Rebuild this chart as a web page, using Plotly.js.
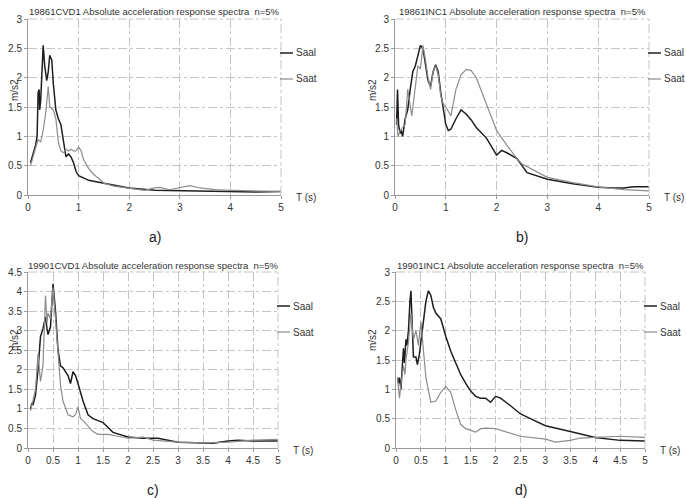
<!DOCTYPE html>
<html><head><meta charset="utf-8">
<script src="https://cdn.plot.ly/plotly-3.0.1.min.js"></script>
<style>html,body{margin:0;padding:0;background:#fff}#g{width:686px;height:498px}</style>
</head><body><div id="g"></div>
<script>
// Panel a: 19861CVD1
const aSaalT = [0.05,0.1,0.15,0.18,0.2,0.22,0.23,0.25,0.3,0.33,0.37,0.4,0.43,0.47,0.5,0.55,0.6,0.65,0.7,0.75,0.8,0.85,0.9,0.95,1.0,1.2,1.5,2.0,2.5,3.0,3.5,4.0,4.5,5.0];
const aSaalV = [0.55,0.7,0.85,1.0,1.75,1.8,1.45,1.6,2.55,2.2,1.95,2.1,2.38,2.3,1.9,1.45,1.3,1.2,0.9,0.65,0.7,0.65,0.55,0.4,0.33,0.25,0.2,0.12,0.08,0.07,0.06,0.05,0.05,0.06];
const aSaatT = [0.05,0.1,0.15,0.2,0.25,0.3,0.35,0.4,0.43,0.5,0.55,0.6,0.65,0.7,0.75,0.8,0.85,0.9,0.95,1.0,1.05,1.1,1.2,1.3,1.4,1.5,1.7,2.0,2.3,2.5,2.6,2.8,3.0,3.2,3.4,3.7,4.0,4.5,5.0];
const aSaatV = [0.5,0.65,0.8,0.95,0.9,1.1,1.4,1.85,1.5,1.45,1.3,0.9,0.75,0.72,0.78,0.75,0.78,0.75,0.75,0.82,0.75,0.6,0.45,0.35,0.28,0.2,0.15,0.11,0.08,0.12,0.13,0.09,0.12,0.16,0.12,0.09,0.08,0.07,0.06];
// Panel b: 19861INC1
const bSaalT = [0.03,0.05,0.07,0.1,0.12,0.15,0.2,0.25,0.3,0.35,0.4,0.45,0.5,0.55,0.6,0.65,0.7,0.75,0.8,0.85,0.9,0.95,1.0,1.05,1.1,1.2,1.3,1.4,1.5,1.6,1.8,2.0,2.05,2.1,2.2,2.4,2.6,3.0,3.5,4.0,4.3,4.5,4.7,5.0];
const bSaalV = [1.2,1.8,1.2,1.05,1.1,1.0,1.3,1.45,1.8,2.1,2.2,2.4,2.55,2.5,2.2,1.95,1.85,2.1,2.22,2.1,1.75,1.45,1.2,1.1,1.12,1.3,1.45,1.38,1.28,1.15,0.97,0.68,0.72,0.76,0.72,0.62,0.38,0.27,0.19,0.13,0.12,0.12,0.14,0.14];
const bSaatT = [0.03,0.06,0.1,0.15,0.2,0.25,0.3,0.33,0.38,0.45,0.5,0.55,0.6,0.65,0.7,0.75,0.8,0.85,0.9,0.95,1.0,1.1,1.2,1.3,1.4,1.5,1.6,1.8,2.0,2.2,2.4,2.5,3.0,3.5,4.0,4.5,5.0];
const bSaatV = [1.3,1.0,1.1,1.15,1.2,1.8,1.5,1.35,1.7,2.2,2.15,2.55,2.3,2.0,1.8,2.1,2.2,2.05,1.7,1.55,1.5,1.35,1.8,2.05,2.14,2.12,2.0,1.55,1.1,0.85,0.62,0.53,0.3,0.21,0.14,0.09,0.07];
// Panel c: 19901CVD1
const cSaalT = [0.05,0.08,0.1,0.15,0.2,0.25,0.3,0.35,0.38,0.4,0.45,0.5,0.55,0.6,0.65,0.7,0.8,0.85,0.9,0.95,1.0,1.1,1.2,1.3,1.5,1.7,2.0,2.3,2.6,2.8,3.0,3.5,3.7,4.0,4.2,4.5,4.8,5.0];
const cSaalV = [1.0,1.15,1.1,1.35,2.0,2.85,3.05,3.35,3.05,2.9,3.1,4.2,3.5,2.5,2.1,2.05,1.85,1.65,1.95,1.85,1.65,1.2,0.85,0.75,0.65,0.4,0.28,0.25,0.25,0.2,0.15,0.13,0.12,0.18,0.2,0.18,0.17,0.18];
const cSaatT = [0.05,0.1,0.15,0.2,0.25,0.3,0.35,0.38,0.4,0.45,0.5,0.55,0.6,0.65,0.7,0.8,0.9,0.95,1.0,1.05,1.1,1.2,1.3,1.4,1.6,1.8,2.0,2.3,2.5,3.0,3.5,4.0,4.5,5.0];
const cSaatV = [0.95,1.2,1.5,2.4,1.7,2.1,3.9,3.2,3.45,3.3,4.1,3.3,2.3,1.6,1.2,0.85,0.8,0.85,1.05,0.75,0.7,0.55,0.42,0.35,0.35,0.3,0.25,0.28,0.2,0.15,0.13,0.15,0.2,0.22];
// Panel d: 19901INC1
const dSaalT = [0.03,0.05,0.07,0.1,0.12,0.15,0.17,0.2,0.22,0.25,0.28,0.3,0.33,0.35,0.4,0.43,0.47,0.5,0.55,0.6,0.65,0.7,0.75,0.8,0.9,1.0,1.1,1.2,1.3,1.4,1.5,1.6,1.7,1.8,1.9,2.0,2.1,2.3,2.5,2.7,3.0,3.5,4.0,4.5,5.0];
const dSaalV = [1.2,1.1,1.2,1.0,1.3,1.7,1.45,1.85,1.75,2.0,2.5,2.68,2.0,1.55,1.55,1.42,1.6,1.8,2.2,2.5,2.68,2.6,2.4,2.3,2.2,1.9,1.65,1.45,1.25,1.1,0.97,0.88,0.85,0.85,0.78,0.88,0.85,0.72,0.58,0.5,0.38,0.28,0.18,0.13,0.12];
const dSaatT = [0.03,0.07,0.1,0.15,0.18,0.2,0.25,0.3,0.33,0.35,0.4,0.45,0.5,0.55,0.6,0.7,0.8,0.9,1.0,1.1,1.2,1.3,1.4,1.5,1.6,1.7,1.8,2.0,2.2,2.5,3.0,3.2,3.5,3.7,4.0,4.5,5.0];
const dSaatV = [1.2,0.85,1.1,1.4,1.25,1.5,1.8,2.3,2.0,1.85,2.0,1.75,2.15,1.7,1.2,0.78,0.8,0.95,1.05,0.95,0.65,0.4,0.33,0.3,0.27,0.33,0.34,0.33,0.28,0.2,0.15,0.1,0.13,0.17,0.18,0.2,0.18];

const titles = ["19861CVD1 Absolute acceleration response spectra  n=5%","19861INC1 Absolute acceleration response spectra  n=5%","19901CVD1 Absolute acceleration response spectra  n=5%","19901INC1 Absolute acceleration response spectra  n=5%"];
const panelLabels = ["a)","b)","c)","d)"];
const seriesNames = ["Saal","Saat"];

const W=686,H=498;
const boxes = [ // plot area pixel boxes [x0,x1,yTop,yBottom]
  [28,281,19,195],[395,649,19,195],[28,278,272,448],[396,645,272,448]];
const yTitlePos = [[14,90],[372,90],[14,340],[372,340]];
const yMax = [3,3,4.5,3];
const xDtick = [1,1,0.5,0.5];
const data = [[aSaalT,aSaalV,aSaatT,aSaatV],[bSaalT,bSaalV,bSaatT,bSaatV],[cSaalT,cSaalV,cSaatT,cSaatV],[dSaalT,dSaalV,dSaatT,dSaatV]];
const darkC="#1e1e1e", greyC="#8c8c8c";
const traces=[]; const layout={width:W,height:H,margin:{l:0,r:0,t:0,b:0},paper_bgcolor:"#fff",plot_bgcolor:"#fff",showlegend:false,
  font:{family:"Liberation Sans, Arial, sans-serif",color:"#333",size:10},annotations:[],shapes:[]};
boxes.forEach((b,i)=>{
  const n=i+1, sx=n===1?"":n, xa="x"+sx, ya="y"+sx;
  const d=data[i];
  traces.push({x:d[0],y:d[1],xaxis:xa,yaxis:ya,mode:"lines",line:{color:darkC,width:1.5},name:seriesNames[0]});
  traces.push({x:d[2],y:d[3],xaxis:xa,yaxis:ya,mode:"lines",line:{color:greyC,width:1.2},name:seriesNames[1]});
  const axStyle={showline:true,linecolor:"#9a9a9a",linewidth:1,ticks:"outside",ticklen:3,tickcolor:"#9a9a9a",
    showgrid:true,gridcolor:"#c4c4c4",griddash:"dashdot",gridwidth:1,zeroline:false,tickfont:{size:10,color:"#333"},fixedrange:true};
  layout["xaxis"+sx]=Object.assign({},axStyle,{domain:[b[0]/W,b[1]/W],range:[0,5],dtick:xDtick[i],tick0:0,anchor:ya});
  layout["yaxis"+sx]=Object.assign({},axStyle,{domain:[(H-b[3])/H,(H-b[2])/H],range:[0,yMax[i]],dtick:0.5,tick0:0,anchor:xa});
  layout.annotations.push({xref:"paper",yref:"paper",x:yTitlePos[i][0]/W,y:(H-yTitlePos[i][1])/H,text:"m/s2",textangle:-90,showarrow:false,font:{size:10,color:"#333"},xanchor:"center",yanchor:"middle"});
  // right & top border dashed
  layout.shapes.push({type:"line",xref:"paper",yref:"paper",x0:b[1]/W,x1:b[1]/W,y0:(H-b[3])/H,y1:(H-b[2])/H,line:{color:"#c4c4c4",width:1,dash:"dashdot"}});
  layout.shapes.push({type:"line",xref:"paper",yref:"paper",x0:b[0]/W,x1:b[1]/W,y0:(H-b[2])/H,y1:(H-b[2])/H,line:{color:"#c4c4c4",width:1,dash:"dashdot"}});
  const cx=(b[0]+b[1])/2;
  layout.annotations.push({xref:"paper",yref:"paper",x:(cx)/W,y:(H-(b[2]-7))/H,text:titles[i],showarrow:false,font:{size:9.5,color:"#333"},xanchor:"center",yanchor:"middle"});
  layout.annotations.push({xref:"paper",yref:"paper",x:(b[1]+13)/W,y:(H-(b[3]+2))/H,text:"T (s)",showarrow:false,font:{size:10,color:"#333"},xanchor:"left",yanchor:"middle"});
  layout.annotations.push({xref:"paper",yref:"paper",x:cx/W,y:(H-(b[3]+42))/H,text:panelLabels[i],showarrow:false,font:{size:14,color:"#222"},xanchor:"center",yanchor:"middle"});
  // legend
  const ly=[b[2]+34,b[2]+60];
  [darkC,greyC].forEach((c,k)=>{
    layout.shapes.push({type:"line",xref:"paper",yref:"paper",x0:(b[1]-1)/W,x1:(b[1]+12)/W,y0:(H-ly[k])/H,y1:(H-ly[k])/H,line:{color:c,width:k?1.2:1.5}});
    layout.annotations.push({xref:"paper",yref:"paper",x:(b[1]+13)/W,y:(H-ly[k])/H,text:seriesNames[k],showarrow:false,font:{size:10,color:"#333"},xanchor:"left",yanchor:"middle"});
  });
});
Plotly.newPlot("g",traces,layout,{staticPlot:true,displayModeBar:false});
</script></body></html>
